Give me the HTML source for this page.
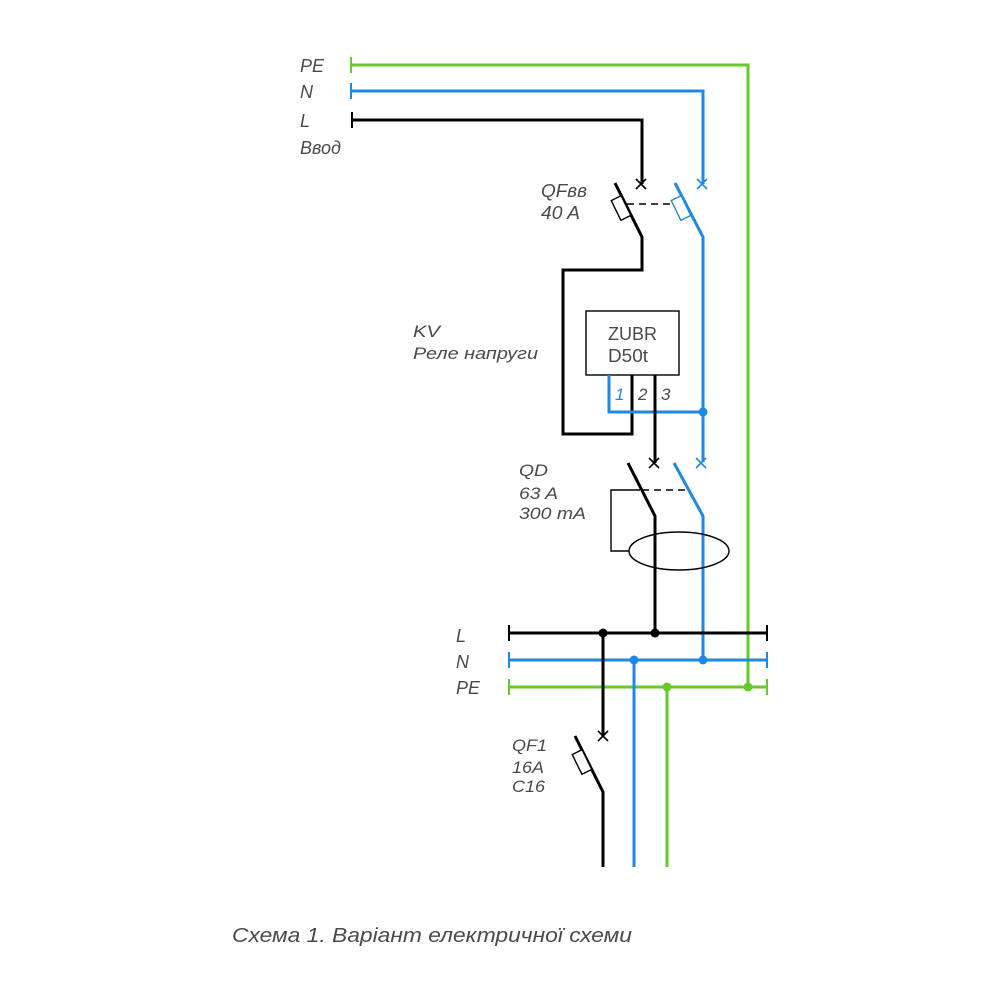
<!DOCTYPE html>
<html>
<head>
<meta charset="utf-8">
<style>
  html, body { margin:0; padding:0; background:#fff; }
  svg { display:block; }
  text { font-family: "Liberation Sans", "DejaVu Sans", sans-serif; fill:#4a4a4a; }
  .it { font-style: italic; }
</style>
</head>
<body>
<svg width="1000" height="1000" viewBox="0 0 1000 1000" xmlns="http://www.w3.org/2000/svg">
  <rect width="1000" height="1000" fill="#fff"/>

  <!-- Input labels -->
  <text class="it" x="300" y="72" font-size="18">PE</text>
  <text class="it" x="300" y="98" font-size="18">N</text>
  <text class="it" x="300" y="127" font-size="18">L</text>
  <text class="it" x="300" y="154" font-size="18">Ввод</text>

  <!-- PE input -->
  <g stroke="#66c92a" stroke-width="3" fill="none">
    <line x1="351" y1="57" x2="351" y2="73" stroke-width="2"/>
    <polyline points="351,65 748,65 748,687"/>
  </g>
  <!-- N input -->
  <g stroke="#1e88e5" stroke-width="3" fill="none">
    <line x1="351" y1="83" x2="351" y2="99" stroke-width="2"/>
    <polyline points="351,91 703,91 703,184"/>
    <line x1="697" y1="179" x2="707" y2="189" stroke-width="1.6"/>
    <line x1="707" y1="179" x2="697" y2="189" stroke-width="1.6"/>
  </g>
  <!-- L input -->
  <g stroke="#000" stroke-width="3" fill="none">
    <line x1="352" y1="112" x2="352" y2="128" stroke-width="2"/>
    <polyline points="352,120 642,120 642,184"/>
    <line x1="636" y1="179" x2="646" y2="189" stroke-width="1.6"/>
    <line x1="646" y1="179" x2="636" y2="189" stroke-width="1.6"/>
  </g>

  <!-- QFвв -->
  <text class="it" x="541" y="197" font-size="18" textLength="46" lengthAdjust="spacingAndGlyphs">QFвв</text>
  <text class="it" x="541" y="219" font-size="18" textLength="39" lengthAdjust="spacingAndGlyphs">40 A</text>
  <g fill="none">
    <polyline points="615,183 642,237 642,270 563,270 563,434 632,434 632,375" stroke="#000" stroke-width="3" stroke-linejoin="miter"/>
    <rect x="-5.5" y="-11" width="11" height="22" transform="translate(621,208) rotate(-26)" stroke="#000" stroke-width="1.4" fill="#fff"/>
    <line x1="627" y1="204" x2="673" y2="204" stroke="#000" stroke-width="1.4" stroke-dasharray="7,5"/>
    <polyline points="675,183 703,237 703,462" stroke="#1e88e5" stroke-width="3"/>
    <rect x="-5.5" y="-11" width="11" height="22" transform="translate(681,208) rotate(-26)" stroke="#1e88e5" stroke-width="1.4" fill="#fff"/>
  </g>

  <!-- KV relay -->
  <text class="it" x="413" y="337" font-size="17" textLength="27" lengthAdjust="spacingAndGlyphs">KV</text>
  <text class="it" x="413" y="359" font-size="17" textLength="125" lengthAdjust="spacingAndGlyphs">Реле напруги</text>
  <rect x="586" y="311" width="93" height="64" fill="#fff" stroke="#000" stroke-width="1.4"/>
  <text x="608" y="340" font-size="18" textLength="49" lengthAdjust="spacingAndGlyphs">ZUBR</text>
  <text x="608" y="362" font-size="18" textLength="40" lengthAdjust="spacingAndGlyphs">D50t</text>
  <polyline points="609,375 609,412 703,412" fill="none" stroke="#1e88e5" stroke-width="3"/>
  <circle cx="703" cy="412" r="4.5" fill="#1e88e5"/>
  <line x1="655" y1="375" x2="655" y2="463" stroke="#000" stroke-width="3"/>
  <text class="it" x="615" y="400" font-size="17" style="fill:#1e88e5">1</text>
  <text class="it" x="638" y="400" font-size="17">2</text>
  <text class="it" x="661" y="400" font-size="17">3</text>

  <!-- QD -->
  <text class="it" x="519" y="476" font-size="17" textLength="29" lengthAdjust="spacingAndGlyphs">QD</text>
  <text class="it" x="519" y="499" font-size="17" textLength="39" lengthAdjust="spacingAndGlyphs">63 A</text>
  <text class="it" x="519" y="519" font-size="17" textLength="67" lengthAdjust="spacingAndGlyphs">300 mA</text>
  <g fill="none">
    <line x1="649" y1="458" x2="659" y2="468" stroke="#000" stroke-width="1.6"/>
    <line x1="659" y1="458" x2="649" y2="468" stroke="#000" stroke-width="1.6"/>
    <line x1="696" y1="458" x2="706" y2="468" stroke="#1e88e5" stroke-width="1.6"/>
    <line x1="706" y1="458" x2="696" y2="468" stroke="#1e88e5" stroke-width="1.6"/>
    <polyline points="628,463 655,516 655,633" stroke="#000" stroke-width="3"/>
    <polyline points="674,463 703,516 703,660" stroke="#1e88e5" stroke-width="3"/>
    <polyline points="640,490 611,490 611,551 629,551" stroke="#000" stroke-width="1.4"/>
    <line x1="642" y1="490" x2="688" y2="490" stroke="#000" stroke-width="1.4" stroke-dasharray="7,5"/>
    <ellipse cx="679" cy="551" rx="50" ry="19" stroke="#000" stroke-width="1.4"/>
  </g>

  <!-- Buses -->
  <text class="it" x="456" y="642" font-size="18">L</text>
  <text class="it" x="456" y="668" font-size="18">N</text>
  <text class="it" x="456" y="694" font-size="18">PE</text>
  <g stroke-width="3" fill="none">
    <line x1="509" y1="633" x2="767" y2="633" stroke="#000"/>
    <line x1="509" y1="625" x2="509" y2="641" stroke="#000" stroke-width="2"/>
    <line x1="767" y1="625" x2="767" y2="641" stroke="#000" stroke-width="2"/>
    <line x1="509" y1="660" x2="767" y2="660" stroke="#1e88e5"/>
    <line x1="509" y1="652" x2="509" y2="668" stroke="#1e88e5" stroke-width="2"/>
    <line x1="767" y1="652" x2="767" y2="668" stroke="#1e88e5" stroke-width="2"/>
    <line x1="509" y1="687" x2="767" y2="687" stroke="#66c92a"/>
    <line x1="509" y1="679" x2="509" y2="695" stroke="#66c92a" stroke-width="2"/>
    <line x1="767" y1="679" x2="767" y2="695" stroke="#66c92a" stroke-width="2"/>
  </g>
  <circle cx="603" cy="633" r="4.5" fill="#000"/>
  <circle cx="655" cy="633" r="4.5" fill="#000"/>
  <circle cx="634" cy="660" r="4.5" fill="#1e88e5"/>
  <circle cx="703" cy="660" r="4.5" fill="#1e88e5"/>
  <circle cx="667" cy="687" r="4.5" fill="#66c92a"/>
  <circle cx="748" cy="687" r="4.5" fill="#66c92a"/>

  <!-- QF1 -->
  <text class="it" x="512" y="751" font-size="17" textLength="35" lengthAdjust="spacingAndGlyphs">QF1</text>
  <text class="it" x="512" y="773" font-size="17" textLength="32" lengthAdjust="spacingAndGlyphs">16A</text>
  <text class="it" x="512" y="792" font-size="17" textLength="33" lengthAdjust="spacingAndGlyphs">C16</text>
  <g fill="none">
    <line x1="603" y1="633" x2="603" y2="736" stroke="#000" stroke-width="3"/>
    <line x1="598" y1="731" x2="608" y2="741" stroke="#000" stroke-width="1.6"/>
    <line x1="608" y1="731" x2="598" y2="741" stroke="#000" stroke-width="1.6"/>
    <polyline points="575,736 603,792 603,867" stroke="#000" stroke-width="3"/>
    <rect x="-5.5" y="-11" width="11" height="22" transform="translate(582,762) rotate(-26)" stroke="#000" stroke-width="1.4" fill="#fff"/>
    <line x1="634" y1="660" x2="634" y2="867" stroke="#1e88e5" stroke-width="3"/>
    <line x1="667" y1="687" x2="667" y2="867" stroke="#66c92a" stroke-width="3"/>
  </g>

  <!-- Caption -->
  <text class="it" x="232" y="942" font-size="20" textLength="400" lengthAdjust="spacingAndGlyphs">Схема 1. Варіант електричної схеми</text>
</svg>
</body>
</html>
